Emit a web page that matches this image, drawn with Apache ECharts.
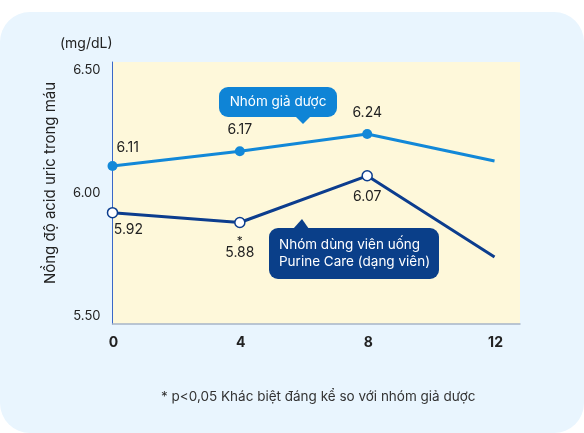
<!DOCTYPE html>
<html>
<head>
<meta charset="utf-8">
<script src="https://cdn.jsdelivr.net/npm/echarts@6/dist/echarts.min.js"></script>
<style>
  html, body { margin: 0; padding: 0; background: #ffffff; }
  #card { position: absolute; left: 0; top: 12px; width: 584px; height: 421px;
          background: #e9f5fe; border-radius: 30px; }
  #chart { position: absolute; left: 0; top: 0; width: 584px; height: 433px; }
</style>
</head>
<body>
<div id="card"></div>
<div id="chart"></div>
<script>
// tuần theo dõi
var weeks = [0, 4, 8, 12];
var placebo = [6.11, 6.17, 6.24, 6.13];
var purine = [5.92, 5.88, 6.07, 5.74];
var placeboLabels = ['6.11', '6.17', '6.24', ''];
var purineLabels = ['5.92', '{s|*}\n5.88', '6.07', ''];
var yTicks = [5.5, 6.0, 6.5];
var xTicks = [0, 4, 8, 12];

var font = 'Inter, "Noto Sans", sans-serif';
var chart = echarts.init(document.getElementById('chart'));

function pairs(vals, labels, pos) {
    return weeks.map(function(w, i) {
        return {
            value: [w, vals[i]],
            symbolSize: labels[i] === '' ? 0 : 10,
            label: { show: labels[i] !== '', formatter: labels[i], position: pos[i] }
        };
    });
}

var option = {
    animation: false,
    grid: {
        left: 112.5, right: 64, top: 62, bottom: 109,
        show: true, backgroundColor: '#fef8da', borderWidth: 0
    },
    xAxis: {
        type: 'value',
        min: 0, max: 12.8,
        axisLine: { show: true, lineStyle: { color: '#a7b4c8', width: 1.5 } },
        axisTick: { show: false },
        splitLine: { show: false },
        axisLabel: {
            customValues: xTicks,
            color: '#222', fontWeight: 'bold', fontSize: 14, fontFamily: font, margin: 12,
            padding: [0, 0, 0, 2]
        }
    },
    yAxis: {
        type: 'value',
        min: 5.467, max: 6.533,
        axisLine: { show: true, lineStyle: { color: '#3a68c8', width: 1 } },
        axisTick: { show: false },
        splitLine: { show: false },
        axisLabel: {
            customValues: yTicks,
            formatter: function(v) { return v.toFixed(2); },
            color: '#222', fontSize: 13, fontFamily: font, margin: 12
        }
    },
    series: [{
        name: 'Nhóm giả dược',
        type: 'line',
        data: pairs(placebo, placeboLabels, [[9, -20], 'top', 'top', 'top']),
        symbol: 'circle',
        lineStyle: { color: '#1288d8', width: 3 },
        itemStyle: { color: '#1288d8' },
        label: { color: '#222', fontSize: 14, fontFamily: font, distance: 9 },
        z: 3
    }, {
        name: 'Nhóm dùng viên uống Purine Care (dạng viên)',
        type: 'line',
        data: pairs(purine, purineLabels, [[7, 16], 'bottom', 'bottom', 'bottom']),
        symbol: 'circle',
        lineStyle: { color: '#0c3d8e', width: 3 },
        itemStyle: { color: '#ffffff', borderColor: '#0c3d8e', borderWidth: 1.5 },
        label: {
            color: '#222', fontSize: 14, fontFamily: font, distance: 8, lineHeight: 14,
            rich: { s: { fontSize: 12, color: '#222', lineHeight: 10, align: 'center' } }
        },
        z: 4
    }],
    graphic: [{
        type: 'text', left: 60, top: 37,
        style: { text: '(mg/dL)', fill: '#222', font: '14px ' + font }
    }, {
        type: 'text', x: 50, y: 183, rotation: Math.PI / 2,
        style: {
            text: 'Nồng độ acid uric trong máu', fill: '#222', font: '15px ' + font,
            align: 'center', verticalAlign: 'middle'
        }
    }, {
        type: 'group', x: 219, y: 87,
        children: [{
            type: 'rect', shape: { x: 0, y: 0, width: 118, height: 30, r: 9 },
            style: { fill: '#0f84d6' }
        }, {
            type: 'polygon', shape: { points: [[76, 29], [92, 29], [84, 37]] },
            style: { fill: '#0f84d6' }
        }, {
            type: 'text', x: 59, y: 15,
            style: { text: 'Nhóm giả dược', fill: '#fff', font: '13.5px ' + font,
                     align: 'center', verticalAlign: 'middle' }
        }]
    }, {
        type: 'group', x: 269, y: 228,
        children: [{
            type: 'rect', shape: { x: 0, y: 0, width: 170, height: 51, r: 9 },
            style: { fill: '#0a3f89' }
        }, {
            type: 'polygon', shape: { points: [[24, 1], [40, 1], [33, -9]] },
            style: { fill: '#0a3f89' }
        }, {
            type: 'text', x: 10, y: 25,
            style: { text: 'Nhóm dùng viên uống\nPurine Care (dạng viên)', fill: '#fff',
                     font: '13.5px ' + font, lineHeight: 17, verticalAlign: 'middle' }
        }]
    }, {
        type: 'text', left: 161, top: 390,
        style: { text: '* p<0,05 Khác biệt đáng kể so với nhóm giả dược', fill: '#333',
                 font: '13.5px ' + font }
    }]
};
chart.setOption(option);
</script>
</body>
</html>
